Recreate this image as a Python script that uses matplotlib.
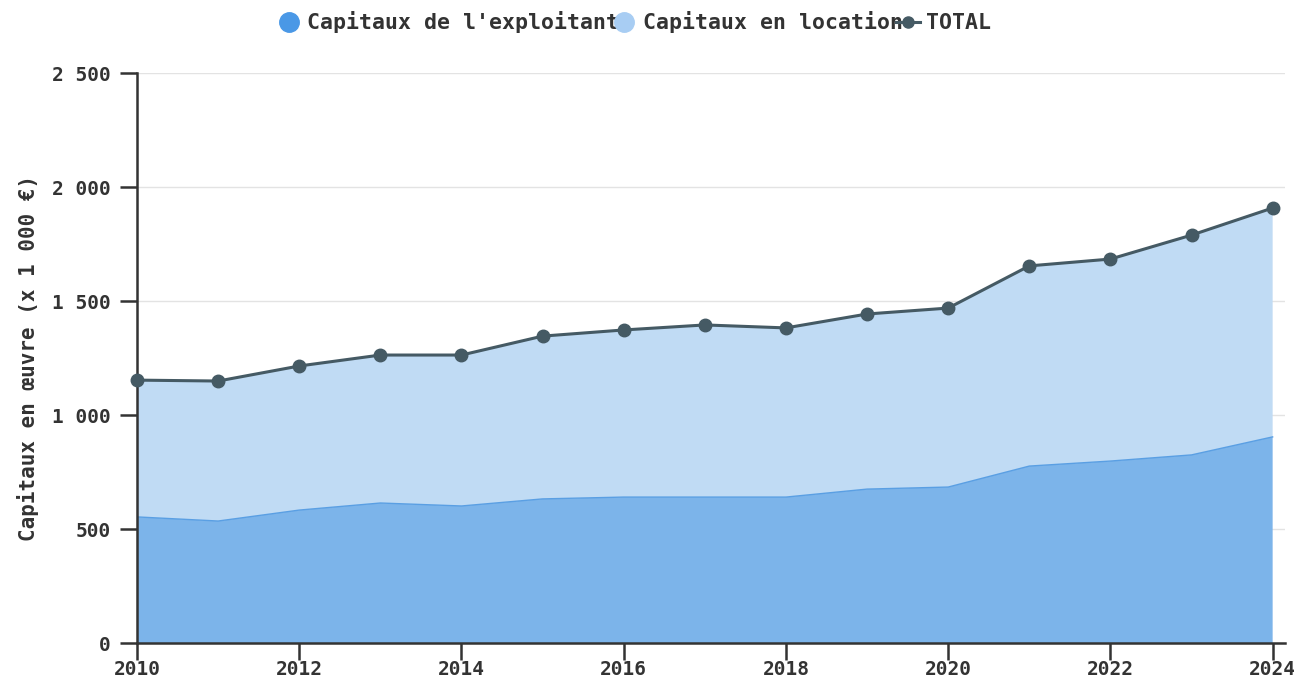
import matplotlib
matplotlib.use("Agg")
import matplotlib.pyplot as plt
from matplotlib.lines import Line2D
from matplotlib.ticker import FuncFormatter

years = [2010, 2011, 2012, 2013, 2014, 2015, 2016, 2017, 2018, 2019, 2020, 2021, 2022, 2023, 2024]
exploitant = [553, 535, 583, 614, 601, 632, 640, 640, 640, 675, 684, 776, 798, 825, 904]
total = [1153, 1149, 1215, 1263, 1263, 1346, 1373, 1395, 1382, 1443, 1469, 1654, 1684, 1789, 1908]
location = [t - e for t, e in zip(total, exploitant)]

C_EXPL = "#7cb4ea"
C_LOC = "#c0dbf4"
C_TOTAL = "#455a64"
MONO = "DejaVu Sans Mono"

plt.rcParams["font.family"] = MONO
plt.rcParams["font.weight"] = "bold"

fig = plt.figure(figsize=(12.94, 6.81), dpi=100)
ax = fig.add_axes([0.1059, 0.0558, 0.887, 0.837])

#stacked areas
ax.stackplot(years, exploitant, location, colors=[C_EXPL, C_LOC], linewidth=0)
ax.plot(years, exploitant, color="#5a9fe3", linewidth=1)
ax.plot(years, total, color=C_TOTAL, linewidth=2.2, marker="o", markersize=9, zorder=5, clip_on=False)

ax.set_xlim(2010, 2024.15)
ax.set_ylim(0, 2500)
ax.set_xticks(range(2010, 2025, 2))
ax.set_yticks(range(0, 2501, 500))
ax.yaxis.set_major_formatter(FuncFormatter(lambda v, p: f"{int(v):,}".replace(",", " ")))

ax.grid(axis="y", color="#e3e3e3", linewidth=1)
ax.set_axisbelow(True)
for s in ["top", "right"]:
    ax.spines[s].set_visible(False)
for s in ["left", "bottom"]:
    ax.spines[s].set_color("#333333")
    ax.spines[s].set_linewidth(1.8)
ax.tick_params(axis="both", length=12, width=1.8, color="#333333", labelsize=14, labelcolor="#333333")
ax.tick_params(axis="y", pad=7)
ax.tick_params(axis="x", pad=0)

ax.set_ylabel("Capitaux en œuvre (x 1 000 €)", fontsize=15, fontweight="bold",
              color="#333333", labelpad=9)

#legend on top, entries packed tight like the original
handles = [
    Line2D([], [], linestyle="none", marker="o", markersize=14, color="#4a98e6"),
    Line2D([], [], linestyle="none", marker="o", markersize=14, color="#a8cdf3"),
    Line2D([], [], color=C_TOTAL, linewidth=2.2, marker="o", markersize=8),
]
labels = ["Capitaux de l'exploitant", "Capitaux en location", "TOTAL"]
fig.legend(handles, labels, loc="upper center", bbox_to_anchor=(0.49, 1.012), ncol=3,
           frameon=False, fontsize=15.5, handlelength=1.1, handletextpad=0.3,
           columnspacing=-0.3, labelcolor="#333333")

fig.savefig("out.png", dpi=100)
